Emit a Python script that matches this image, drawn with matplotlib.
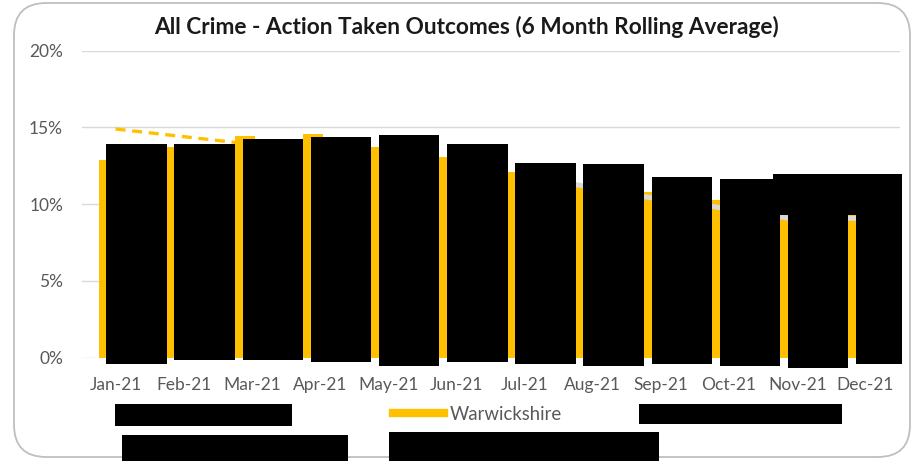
import matplotlib
matplotlib.use("Agg")
import matplotlib.pyplot as plt
from matplotlib.patches import Rectangle, FancyBboxPatch
from matplotlib.lines import Line2D
import numpy as np

plt.rcParams['font.family'] = ['Lato', 'DejaVu Sans']

# ---- data ----
months = ["Jan-21", "Feb-21", "Mar-21", "Apr-21", "May-21", "Jun-21",
          "Jul-21", "Aug-21", "Sep-21", "Oct-21", "Nov-21", "Dec-21"]
warwickshire = [12.9, 13.72, 14.42, 14.57, 13.74, 13.1, 12.1, 11.3, 10.8, 10.3, 9.4, 9.4]
dashed_series = [14.9, 14.4, 13.9, None, None, None, None, None, None, None, None, None]
grey_series = [None, None, None, None, None, None, 11.8, 11.1, 10.3, 9.7, 9.0, 9.1]
# redacted (blacked-out) series: top and bottom of each black block
redacted_top = [13.92, 13.92, 14.25, 14.35, 14.5, 13.9, 12.68, 12.6, 11.8, 11.64, 11.98, 11.98]
redacted_bottom = [-0.43, -0.15, -0.15, -0.3, -0.54, -0.26, -0.43, -0.54, -0.43, -0.54, -0.7, -0.43]
yticks = [0, 5, 10, 15, 20]
ytick_labels = ["0%", "5%", "10%", "15%", "20%"]

W, H = 922, 461
fig = plt.figure(figsize=(W / 100, H / 100), dpi=100)

# chart border
border = FancyBboxPatch((14 / W, 4 / H), (910 - 14) / W, (458 - 4) / H,
                        boxstyle="round,pad=0,rounding_size=0.035",
                        transform=fig.transFigure, facecolor="white",
                        edgecolor="#bfbfbf", linewidth=1.3, zorder=-10,
                        mutation_aspect=W / H)
fig.patches.append(border)

ax_left, ax_right = 81.5, 899.5
ax_top, ax_bottom = 50.7, 357.7
ax = fig.add_axes([ax_left / W, 1 - ax_bottom / H, (ax_right - ax_left) / W,
                   (ax_bottom - ax_top) / H])
ax.set_facecolor("none")

x = np.arange(len(months))
yellow = "#FFC000"

ax.bar(x - 0.25, warwickshire, width=0.3, align="edge", color=yellow, zorder=2)

ds = np.array([np.nan if v is None else v for v in dashed_series])
ax.plot(x, ds, color=yellow, lw=2.4, ls=(0, (3, 2)), zorder=3)
gs = np.array([np.nan if v is None else v for v in grey_series])
ax.plot(x, gs, color="#d9d9d9", lw=3.6, zorder=3, solid_capstyle="butt")

# clip region: full axes width (plus a hair), extending below the zero line
clip = Rectangle((0, -0.2), 1.003, 1.4, transform=ax.transAxes)

rt = np.array(redacted_top)
rb = np.array(redacted_bottom)
bars = ax.bar(x - 0.136, rt - rb, bottom=rb, width=0.886, align="edge",
              color="black", zorder=4)
for b in bars:
    b.set_clip_path(clip)
# redaction block over Nov/Dec
box = Rectangle((9.65, 9.3), 11.55 - 9.65, rt[10] - 9.3,
                facecolor="black", edgecolor="none", zorder=4)
ax.add_patch(box)
box.set_clip_path(clip)

ax.set_xlim(-0.5, len(months) - 0.5)
ax.set_ylim(0, 20)
ax.set_yticks(yticks)
ax.set_yticklabels(ytick_labels)
ax.set_xticks(x)
ax.set_xticklabels(months)
ax.grid(axis="y", color="#d9d9d9", lw=1.0, zorder=0)
ax.set_axisbelow(True)
for s in ax.spines.values():
    s.set_visible(False)
ax.tick_params(axis="both", length=0, colors="#595959", labelsize=12.5)
ax.tick_params(axis="y", pad=13.3)
ax.tick_params(axis="x", pad=14)

fig.text(466 / W, 1 - 27 / H,
         "All Crime - Action Taken Outcomes (6 Month Rolling Average)",
         ha="center", va="center", fontsize=16.3, fontweight="bold", color="#1a1a1a")

# legend
handle = Line2D([], [], color=yellow, lw=6)
leg = fig.legend([handle], ["Warwickshire"], loc="center",
                 bbox_to_anchor=(477.5 / W, 1 - 414 / H), frameon=False,
                 fontsize=13.4, handlelength=2.74, handletextpad=0.3,
                 labelcolor="#595959")

# redacted legend entries
for (x0, y0, x1, y1) in [(115, 404, 292, 426), (639, 404, 842, 424),
                         (122, 435, 348, 461), (389, 432, 659, 461)]:
    fig.patches.append(Rectangle((x0 / W, 1 - y1 / H), (x1 - x0) / W, (y1 - y0) / H,
                                 transform=fig.transFigure, facecolor="black",
                                 edgecolor="none", zorder=5))

fig.savefig("out.png", dpi=100)
